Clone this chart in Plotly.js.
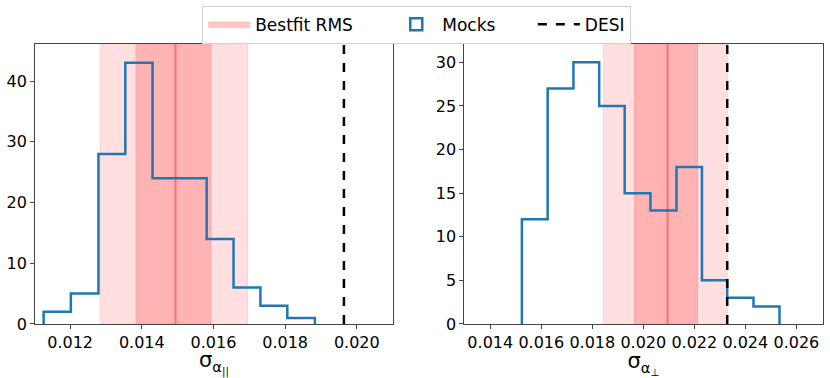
<!DOCTYPE html>
<html>
<head>
<meta charset="utf-8">
<script src="https://cdn.plot.ly/plotly-3.0.1.min.js"></script>
<style>
  body { margin: 0; background: #fff; }
  #chart { width: 830px; height: 378px; }
</style>
</head>
<body>
<div id="chart"></div>
<script>
// left panel: sigma alpha parallel
var parEdges = [0.01126, 0.01202, 0.01279, 0.01354, 0.01430, 0.01505, 0.01581, 0.01656, 0.01731, 0.01806, 0.01883];
var parCounts = [2, 5, 28, 43, 24, 24, 14, 6, 3, 1];
var parCenter = 0.01494;
var parInner = [0.01384, 0.01593];
var parOuter = [0.01284, 0.01695];
var parDesi = 0.01964;

// right panel: sigma alpha perp
var perpEdges = [0.01524, 0.01625, 0.01726, 0.01827, 0.01927, 0.02028, 0.02130, 0.02230, 0.02329, 0.02432, 0.02534];
var perpCounts = [12, 27, 30, 25, 15, 13, 18, 5, 3, 2];
var perpCenter = 0.02095;
var perpInner = [0.01966, 0.02212];
var perpOuter = [0.01845, 0.02329];
var perpDesi = 0.02329;

var legendNames = ['Bestfit RMS', 'Mocks', 'DESI'];

var blue = '#1f77b4';
var lightPink = '#ffdfdf';
var darkPink = '#ffb3b3';
var redLine = '#ff6e6e';
var pad = '\u00a0\u00a0\u00a0\u00a0\u00a0\u00a0';

function stepTrace(edges, counts, xa, ya){
    let xs = [edges[0]];
    let ys = [0];
    for (let i = 0; i < counts.length; i++){
        xs.push(edges[i]);
        ys.push(counts[i]);
    }
    xs.push(edges[edges.length - 1]);
    ys.push(0);
    return {
        x: xs, y: ys, xaxis: xa, yaxis: ya,
        type: 'scatter', mode: 'lines',
        line: {color: blue, width: 2.5, shape: 'hv'},
        showlegend: false, hoverinfo: 'skip'
    };
}

function vline(xv, top, xa, ya, color, dash, width, name, legend){
    return {
        x: [xv, xv], y: [0, top], xaxis: xa, yaxis: ya,
        type: 'scatter', mode: 'lines', name: name,
        line: {color: color, width: width, dash: dash},
        showlegend: legend, hoverinfo: 'skip'
    };
}

function bandShapes(outer, inner, xr, yr){
    return [
        {type: 'rect', xref: xr, yref: yr + ' domain', x0: outer[0], x1: outer[1], y0: 0, y1: 1,
         fillcolor: lightPink, line: {color: '#ffd0d0', width: 1}, layer: 'below'},
        {type: 'rect', xref: xr, yref: yr + ' domain', x0: inner[0], x1: inner[1], y0: 0, y1: 1,
         fillcolor: darkPink, line: {color: '#ffa6a6', width: 1}, layer: 'below'}
    ];
}

var parTop = 46.1;
var perpTop = 32.1;

var traces = [];
// legend-only entries
traces.push({x: [null], y: [null], type: 'scatter', mode: 'lines', fill: 'toself', name: legendNames[0] + pad,
             fillcolor: '#ffc8c8', line: {color: '#ffb4b4', width: 1}, xaxis: 'x', yaxis: 'y'});
traces.push({x: [null], y: [null], type: 'bar', name: legendNames[1] + pad,
             marker: {color: 'rgba(255,255,255,0)', line: {color: blue, width: 2.5}}, xaxis: 'x', yaxis: 'y'});

traces.push(vline(parCenter, parTop, 'x', 'y', redLine, 'solid', 2, 'center', false));
traces.push(vline(perpCenter, perpTop, 'x2', 'y2', redLine, 'solid', 2, 'center', false));
traces.push(stepTrace(parEdges, parCounts, 'x', 'y'));
traces.push(stepTrace(perpEdges, perpCounts, 'x2', 'y2'));
traces.push(vline(parDesi, parTop, 'x', 'y', 'black', 'dash', 2.5, legendNames[2], true));
traces.push(vline(perpDesi, perpTop, 'x2', 'y2', 'black', 'dash', 2.5, legendNames[2], false));

var axisStyle = {
    showline: true, mirror: true, linecolor: '#444', linewidth: 1,
    ticks: 'outside', ticklen: 4, tickcolor: '#444', tickwidth: 1,
    showgrid: false, zeroline: false,
    tickfont: {size: 16, color: 'black'}
};

var layout = {
    width: 830, height: 378,
    margin: {l: 0, r: 0, t: 0, b: 0},
    paper_bgcolor: 'white', plot_bgcolor: 'white',
    font: {family: 'DejaVu Sans', color: 'black'},
    xaxis: Object.assign({}, axisStyle, {
        domain: [0.0422, 0.4735], range: [0.01102, 0.02101], anchor: 'y',
        tickvals: [0.012, 0.014, 0.016, 0.018, 0.020], tickformat: '.3f',
        title: {text: 'σ<sub>α<sub>||</sub></sub>', font: {size: 21}, standoff: 8}
    }),
    yaxis: Object.assign({}, axisStyle, {
        domain: [0.1429, 0.8836], range: [0, parTop], anchor: 'x',
        tickvals: [0, 10, 20, 30, 40]
    }),
    xaxis2: Object.assign({}, axisStyle, {
        domain: [0.5594, 0.9912], range: [0.012982, 0.027033], anchor: 'y2',
        tickvals: [0.014, 0.016, 0.018, 0.020, 0.022, 0.024, 0.026], tickformat: '.3f',
        title: {text: 'σ<sub>α<sub>⊥</sub></sub>', font: {size: 21}, standoff: 8}
    }),
    yaxis2: Object.assign({}, axisStyle, {
        domain: [0.1429, 0.8836], range: [0, perpTop], anchor: 'x2',
        tickvals: [0, 5, 10, 15, 20, 25, 30]
    }),
    shapes: bandShapes(parOuter, parInner, 'x', 'y').concat(bandShapes(perpOuter, perpInner, 'x2', 'y2')),
    showlegend: true,
    legend: {
        orientation: 'h', x: 0.502, xanchor: 'center', y: 0.985, yanchor: 'top',
        bordercolor: '#d0d0d0', borderwidth: 1, bgcolor: 'white',
        font: {size: 17}, traceorder: 'normal', itemwidth: 42
    }
};

Plotly.newPlot('chart', traces, layout, {staticPlot: true});
</script>
</body>
</html>
